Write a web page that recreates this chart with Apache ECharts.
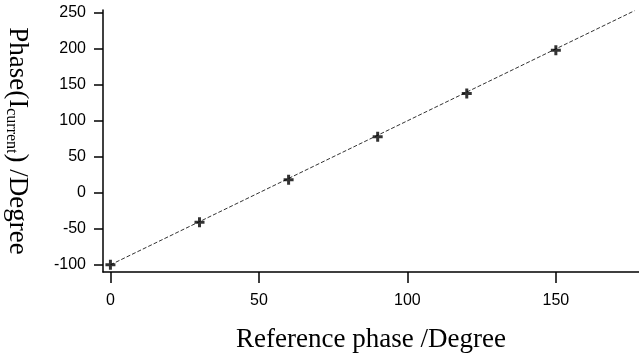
<!DOCTYPE html>
<html>
<head>
<meta charset="utf-8">
<script src="https://cdn.jsdelivr.net/npm/echarts@6/dist/echarts.min.js"></script>
<style>
  html, body { margin: 0; padding: 0; background: #fff; }
  #chart { width: 639px; height: 356px; }
</style>
</head>
<body>
<div id="chart"></div>
<script>
// measured phase points
const refPhase = [0, 30, 60, 90, 120, 150]
const currentPhase = [-100, -41, 18, 78, 138, 198]
// fitted line ends
const fitX = [0, 176.5]
const fitY = [-100, 253]
const xTicks = [0, 50, 100, 150]
const yTicks = [-100, -50, 0, 50, 100, 150, 200, 250]

const chart = echarts.init(document.getElementById('chart'))

const plus = 'path://M3.5,0H6.5V3.5H10V6.5H6.5V10H3.5V6.5H0V3.5H3.5Z'

const option = {
  animation: false,
  grid: { left: 103, right: 0, top: 10, bottom: 84, outerBoundsMode: 'none', containLabel: false },
  xAxis: {
    type: 'value',
    min: -2.5,
    max: 178,
    name: 'Reference phase /Degree',
    nameLocation: 'middle',
    nameGap: 54,
    nameTextStyle: { fontFamily: 'Liberation Serif', fontSize: 27, color: '#000' },
    axisLine: { show: true, onZero: false, lineStyle: { color: '#000', width: 1.5 } },
    axisTick: { show: true, length: 11, customValues: xTicks, lineStyle: { color: '#000', width: 1.5 } },
    axisLabel: { customValues: xTicks, margin: 21, color: '#000', fontFamily: 'Liberation Sans', fontSize: 16 },
    splitLine: { show: false }
  },
  yAxis: {
    type: 'value',
    min: -110,
    max: 254,
    name: '{a|Phase(I}{sub|current}{a|) /Degree}',
    nameLocation: 'middle',
    nameRotate: -90,
    nameGap: 72,
    nameTextStyle: {
      color: '#000',
      rich: {
        a: { fontFamily: 'Liberation Serif', fontSize: 27, color: '#000' },
        sub: { fontFamily: 'Liberation Serif', fontSize: 16, color: '#000', padding: [12, 0, 0, 0] }
      }
    },
    axisLine: { show: true, onZero: false, lineStyle: { color: '#000', width: 1.5 } },
    axisTick: { show: true, length: 9, customValues: yTicks, lineStyle: { color: '#000', width: 1.5 } },
    axisLabel: { customValues: yTicks, margin: 17, color: '#000', fontFamily: 'Liberation Sans', fontSize: 16 },
    splitLine: { show: false }
  },
  series: [
    {
      type: 'line',
      data: fitX.map((x, i) => [x, fitY[i]]),
      showSymbol: false,
      lineStyle: { color: '#333', width: 1, type: [4, 2] },
      z: 1
    },
    {
      type: 'scatter',
      data: refPhase.map((x, i) => [x, currentPhase[i]]),
      symbol: plus,
      symbolSize: 10,
      itemStyle: { color: '#000' },
      z: 2
    }
  ]
}

chart.setOption(option)
</script>
</body>
</html>
